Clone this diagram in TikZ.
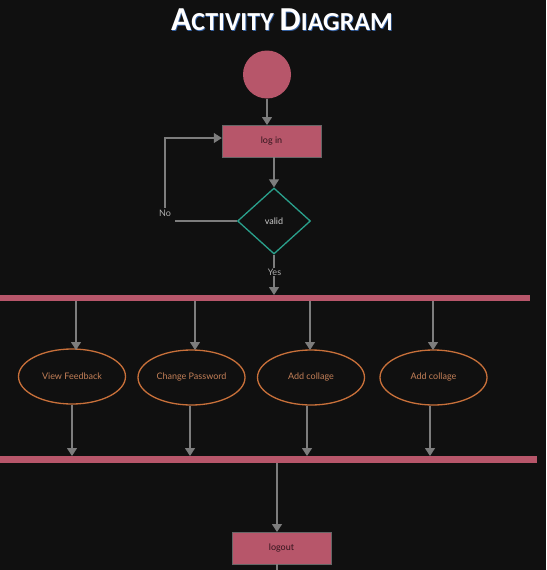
\documentclass[tikz,border=0pt]{standalone}
\usepackage{fontspec}
\setmainfont{Lato}
\newfontfamily\titlefont{Carlito}
\usetikzlibrary{arrows.meta,shapes.geometric}
\definecolor{bg}{RGB}{16,16,16}
\definecolor{rosefill}{RGB}{183,86,106}
\definecolor{conn}{RGB}{125,125,125}
\definecolor{tealc}{RGB}{42,160,140}
\definecolor{orangec}{RGB}{200,112,58}
\definecolor{orangetxt}{RGB}{196,128,88}
\definecolor{lbl}{RGB}{175,175,175}
\definecolor{darktxt}{RGB}{50,20,28}
\definecolor{glow}{RGB}{70,130,220}
\newcommand{\titletext}{\titlefont\bfseries\fontsize{33.5}{33.5}\selectfont A\fontsize{26}{26}\selectfont CTIVITY \fontsize{33.5}{33.5}\selectfont D\fontsize{26}{26}\selectfont IAGRAM}
\tikzset{
  flow/.style={draw=conn,line width=1.2pt,-{Triangle[width=10pt,length=8pt]}},
  plain/.style={draw=conn,line width=1.2pt},
  actbox/.style={fill=rosefill,draw=black!60,line width=0.4pt,minimum width=99pt,minimum height=32pt,inner sep=0pt,font=\fontsize{9}{10}\selectfont,text=darktxt},
  usecase/.style={ellipse,draw=orangec,line width=1.3pt,minimum width=107pt,minimum height=55pt,inner sep=0pt,font=\fontsize{9}{10}\selectfont,text=orangetxt},
  decision/.style={diamond,draw=tealc,line width=1.3pt,minimum width=73pt,minimum height=66pt,inner sep=0pt,aspect=1.1,font=\fontsize{9}{10}\selectfont,text=white!80!black},
  bar/.style={fill=rosefill,draw=none,inner sep=0pt},
  guard/.style={font=\fontsize{9}{10}\selectfont,text=lbl,inner sep=1pt}
}
\begin{document}
\begin{tikzpicture}[x=1pt,y=-1pt]
\fill[bg] (0,0) rectangle (546,570);
\useasboundingbox (0,0) rectangle (546,570);
% title
\node[text=glow,opacity=0.7] at (282.8,20.6) {\titletext};
\node[text=white] (title) at (282,19.5) {\titletext};
% start
\node[circle,fill=rosefill,minimum size=48pt,inner sep=0pt] (start) at (267,74.5) {};
\node[actbox] (login) at (271.5,141) {log in};
\node[decision] (valid) at (274,221) {valid};
\node[guard] (no) at (165,213) {No};
\node[guard] (yes) at (274.5,272) {Yes};
\path[bar] (0,295) rectangle (530,301);
\path[bar] (0,456) rectangle (537,463);
\node[usecase] (u1) at (72,376.5) {View Feedback};
\node[usecase] (u2) at (191.5,377.5) {Change Password};
\node[usecase] (u3) at (311,377.5) {Add collage};
\node[usecase] (u4) at (433.5,377.5) {Add collage};
\node[actbox] (logout) at (281.5,548) {logout};
% connectors
\draw[flow] (start.south) -- (267,125);
\draw[flow] (274,157) -- (valid.north);
\draw[plain] (valid.west) -- (175,221);
\draw[flow] (no.north) ++(0,-1) -- (165,138) -- (login.west |- 0,138);
\draw[plain] (valid.south) -- (valid.south |- yes.north);
\draw[flow] (yes.south -| valid.south) -- (valid.south |- 0,295);
\draw[flow] (76,301) -- (76,350);
\draw[flow] (195,301) -- (195,350);
\draw[flow] (310,301) -- (310,350);
\draw[flow] (433,301) -- (433,350);
\draw[flow] (u1.south -| 72,0) -- (72,456);
\draw[flow] (u2.south -| 190,0) -- (190,456);
\draw[flow] (u3.south -| 307,0) -- (307,456);
\draw[flow] (u4.south -| 430,0) -- (430,456);
\draw[flow] (277,463) -- (277,532);
\draw[plain] (logout.south -| 277,0) -- (277,572);
\end{tikzpicture}
\end{document}
